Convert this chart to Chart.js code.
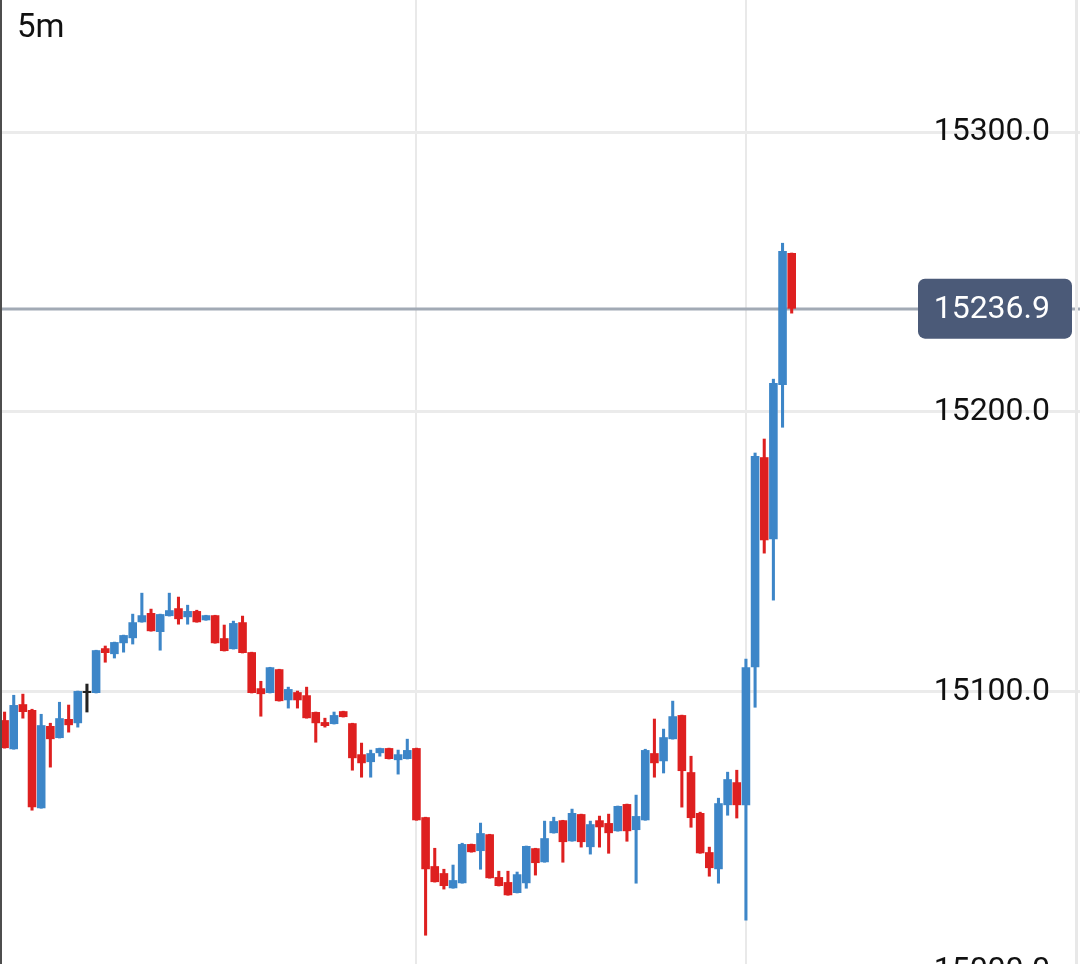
<!DOCTYPE html>
<html>
<head>
<meta charset="utf-8">
<script src="https://cdn.jsdelivr.net/npm/chart.js@4/dist/chart.umd.min.js"></script>
<style>
	html, body { margin: 0; padding: 0; background: #fff; }
	#frame { width: 1080px; height: 964px; overflow: hidden; position: relative; }
	canvas { display: block; }
</style>
</head>
<body>
<div id="frame"><canvas id="price-canvas" width="1080" height="1000"></canvas></div>
<script>
// 5 minute candles, oldest first
const opens = [
	15089.8, 15079.4, 15095.5, 15093.4, 15058.3, 15087.7, 15083.4, 15090.2, 15088.7, 15099.5,
	15099.5, 15115.5, 15113.4, 15117.3, 15119.1, 15124.8, 15128.1, 15121.3, 15127.0, 15129.8,
	15126.6, 15128.8, 15125.5, 15127.3, 15119.1, 15115.2, 15124.8, 15114.1, 15101.2, 15099.5,
	15108.0, 15096.9, 15099.8, 15098.7, 15092.7, 15089.1, 15088.4, 15093.0, 15088.7, 15077.6,
	15074.8, 15078.0, 15079.8, 15075.5, 15075.9, 15079.8, 15055.1, 15037.6, 15035.1, 15029.7,
	15031.5, 15045.5, 15043.0, 15049.0, 15033.7, 15031.9, 15028.0, 15031.5, 15044.0, 15039.0,
	15049.4, 15054.0, 15046.5, 15056.2, 15044.4, 15054.0, 15053.0, 15050.1, 15059.8, 15050.5,
	15054.0, 15078.0, 15075.1, 15083.0, 15091.6, 15071.2, 15056.6, 15042.6, 15036.5, 15059.4,
	15067.6, 15059.4, 15108.7, 15183.8, 15154.5, 15209.6, 15256.8,
];
const highs = [
	15092.7, 15098.7, 15099.1, 15093.7, 15091.9, 15088.7, 15096.2, 15095.2, 15100.2, 15102.7,
	15114.8, 15116.3, 15117.7, 15120.2, 15127.7, 15135.2, 15129.5, 15127.7, 15135.2, 15133.8,
	15130.9, 15129.1, 15127.3, 15127.3, 15123.8, 15125.2, 15127.0, 15114.1, 15103.7, 15108.7,
	15108.0, 15101.6, 15100.2, 15101.6, 15092.7, 15090.5, 15092.7, 15093.0, 15088.7, 15081.6,
	15079.1, 15079.8, 15079.8, 15079.1, 15083.0, 15079.8, 15055.1, 15044.0, 15036.5, 15038.0,
	15045.8, 15045.5, 15053.0, 15049.0, 15035.8, 15035.8, 15035.5, 15044.8, 15044.0, 15053.7,
	15055.1, 15054.0, 15058.0, 15056.2, 15053.7, 15055.5, 15056.2, 15059.1, 15059.8, 15063.0,
	15079.4, 15090.2, 15086.6, 15096.6, 15091.6, 15076.9, 15056.9, 15044.4, 15061.9, 15071.2,
	15071.9, 15111.6, 15185.3, 15190.3, 15211.7, 15260.3, 15256.8,
];
const lows = [
	15079.8, 15079.4, 15090.5, 15057.6, 15058.3, 15073.0, 15083.4, 15085.5, 15087.3, 15092.7,
	15099.5, 15110.5, 15112.0, 15114.1, 15117.0, 15124.8, 15121.6, 15114.8, 15127.0, 15124.1,
	15124.1, 15124.8, 15125.5, 15117.3, 15114.5, 15115.2, 15113.8, 15099.5, 15091.2, 15099.5,
	15096.6, 15094.1, 15094.1, 15090.5, 15081.9, 15087.3, 15088.4, 15090.9, 15071.9, 15069.4,
	15069.4, 15076.9, 15075.9, 15070.5, 15075.9, 15054.0, 15012.9, 15031.9, 15029.4, 15029.7,
	15031.5, 15042.6, 15036.5, 15033.3, 15030.5, 15027.2, 15028.0, 15029.7, 15034.4, 15039.0,
	15049.4, 15039.0, 15046.5, 15044.4, 15041.9, 15044.4, 15042.2, 15050.1, 15046.5, 15031.5,
	15054.0, 15069.4, 15070.9, 15083.0, 15058.7, 15051.5, 15042.2, 15034.0, 15031.5, 15055.8,
	15054.8, 15018.3, 15094.4, 15149.5, 15132.7, 15194.5, 15235.3,
];
const closes = [
	15079.8, 15095.2, 15092.7, 15058.7, 15088.0, 15083.0, 15090.5, 15088.0, 15100.2, 15099.5,
	15114.8, 15113.8, 15117.7, 15120.2, 15124.8, 15127.3, 15121.6, 15127.7, 15129.1, 15125.9,
	15128.8, 15124.8, 15127.3, 15117.3, 15114.5, 15124.5, 15113.8, 15099.5, 15099.1, 15108.7,
	15096.6, 15100.9, 15096.9, 15090.5, 15088.7, 15087.7, 15091.6, 15090.9, 15076.2, 15074.4,
	15078.0, 15079.8, 15075.9, 15077.6, 15079.1, 15054.0, 15036.5, 15031.9, 15030.5, 15032.6,
	15045.5, 15042.6, 15049.4, 15033.3, 15030.5, 15027.2, 15034.7, 15044.8, 15038.7, 15047.6,
	15053.7, 15046.2, 15056.6, 15046.2, 15052.6, 15051.5, 15049.4, 15059.1, 15050.1, 15055.5,
	15079.1, 15074.4, 15083.7, 15091.2, 15071.6, 15054.8, 15042.2, 15036.9, 15060.1, 15068.7,
	15059.4, 15108.7, 15184.2, 15154.1, 15210.3, 15257.5, 15236.9,
];

const startTime = "08:15";
const slotCount = 118; // candles plus empty space on the right
const hourGrid = ["12:00", "15:00"];
const priceTicks = { min: 14989.75, max: 15347.25, step: 100 };
const lastPrice = closes[closes.length - 1];

const upColor = "#3d86c8";
const downColor = "#de2020";
const flatColor = "#222222";

// time labels, 5 min apart
const labels = [];
let [hh, mm] = startTime.split(":").map(Number);
for (let i = 0; i < slotCount; i++) {
	labels.push(String(hh).padStart(2, "0") + ":" + String(mm).padStart(2, "0"));
	mm += 5;
	if (mm >= 60) { mm -= 60; hh = (hh + 1) % 24; }
}

const candleColor = (i) => {
	if (closes[i] > opens[i]) return upColor;
	if (closes[i] < opens[i]) return downColor;
	return flatColor;
};

const overlay = {
	id: "overlay",
	beforeDatasetsDraw(chart) {
		const { ctx, chartArea, scales } = chart;
		const y = Math.round(scales.y.getPixelForValue(lastPrice));
		ctx.save();
		ctx.strokeStyle = "#a2aab5";
		ctx.lineWidth = 3;
		ctx.beginPath();
		ctx.moveTo(chartArea.left, y);
		ctx.lineTo(chartArea.right, y);
		ctx.stroke();
		ctx.restore();
	},
	afterDraw(chart) {
		const { ctx, scales } = chart;
		const y = scales.y.getPixelForValue(lastPrice);
		ctx.save();
		// frame edges
		ctx.strokeStyle = "#4d4d4d";
		ctx.lineWidth = 2;
		ctx.beginPath();
		ctx.moveTo(1, 0);
		ctx.lineTo(1, 1000);
		ctx.stroke();
		ctx.strokeStyle = "#e8e8e8";
		ctx.lineWidth = 3;
		ctx.beginPath();
		ctx.moveTo(1076.5, 0);
		ctx.lineTo(1076.5, 1000);
		ctx.stroke();
		// interval
		ctx.fillStyle = "#111111";
		ctx.font = "33px Roboto";
		ctx.textAlign = "left";
		ctx.textBaseline = "alphabetic";
		ctx.fillText("5m", 17, 37);
		// last price tag
		ctx.fillStyle = "#4b5a78";
		ctx.beginPath();
		ctx.roundRect(918, y - 30, 154, 60, 7);
		ctx.fill();
		ctx.fillStyle = "#ffffff";
		ctx.font = "32px Roboto";
		ctx.textAlign = "right";
		ctx.textBaseline = "middle";
		ctx.fillText(lastPrice.toFixed(1), 1050, y + 1);
		ctx.restore();
	},
};

const priceCanvas = document.getElementById("price-canvas").getContext("2d");

const priceChart = new Chart(priceCanvas, {
	type: "bar",

	data: {
		labels: labels,
		datasets: [
			{
				data: lows.map((l, i) => [l, highs[i]]),
				backgroundColor: (c) => candleColor(c.dataIndex),
				barThickness: 2.4,
				grouped: false,
			},
			{
				data: opens.map((o, i) => [o, closes[i]]),
				backgroundColor: (c) => candleColor(c.dataIndex),
				barPercentage: 0.94,
				categoryPercentage: 1,
				minBarLength: 2,
				grouped: false,
			},
		],
	},

	options: {
		responsive: false,
		animation: false,
		layout: { padding: 0 },
		plugins: {
			legend: { display: false },
			tooltip: { enabled: false },
		},
		scales: {
			x: {
				offset: true,
				border: { display: false },
				ticks: { display: false },
				grid: {
					offset: false,
					drawTicks: false,
					lineWidth: 2,
					color: (c) => (hourGrid.includes(labels[c.index]) ? "#e9e9e9" : "rgba(0,0,0,0)"),
				},
			},
			y: {
				position: "right",
				min: priceTicks.min,
				max: priceTicks.max,
				border: { display: false },
				grid: {
					drawTicks: false,
					lineWidth: 3,
					color: "#ebebeb",
				},
				ticks: {
					mirror: true,
					padding: -30,
					stepSize: priceTicks.step,
					includeBounds: false,
					color: "#111111",
					font: {
						family: "Roboto",
						size: 32,
					},
					callback: (v) => v.toFixed(1),
				},
				afterFit: (scale) => {
					scale.width = 0;
					scale.paddingTop = 0;
					scale.paddingBottom = 0;
				},
			},
		},
	},

	plugins: [overlay],
});
</script>
</body>
</html>
